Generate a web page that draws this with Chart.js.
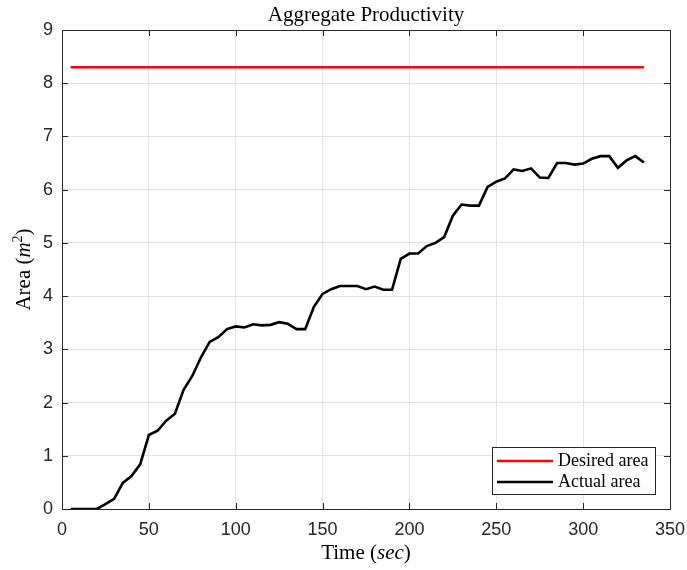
<!DOCTYPE html>
<html>
<head>
<meta charset="utf-8">
<script src="https://cdn.jsdelivr.net/npm/chart.js@4.4.1/dist/chart.umd.min.js"></script>
<style>
  html, body { margin: 0; padding: 0; background: #ffffff; }
  #wrap { width: 687px; height: 570px; position: relative; }
</style>
</head>
<body>
<div id="wrap"><canvas id="c" width="687" height="570"></canvas></div>
<script>
// ---- data ----
const titleText = 'Aggregate Productivity';
const seriesNames = ['Desired area', 'Actual area'];
const desiredTimes = [5, 335];
const desiredArea = [8.3, 8.3];
const times = [5, 10, 15, 20, 25, 30, 35, 40, 45, 50, 55, 60, 65, 70, 75, 80, 85, 90, 95, 100,
  105, 110, 115, 120, 125, 130, 135, 140, 145, 150, 155, 160, 165, 170, 175, 180, 185, 190, 195, 200,
  205, 210, 215, 220, 225, 230, 235, 240, 245, 250, 255, 260, 265, 270, 275, 280, 285, 290, 295, 300,
  305, 310, 315, 320, 325, 330, 335];
const actualArea = [0, 0, 0, 0, 0.09, 0.19, 0.49, 0.62, 0.84, 1.39, 1.47, 1.66, 1.79, 2.24, 2.50, 2.85, 3.14, 3.23, 3.38, 3.43,
  3.41, 3.47, 3.45, 3.46, 3.51, 3.48, 3.38, 3.38, 3.80, 4.04, 4.13, 4.19, 4.19, 4.19, 4.13, 4.18, 4.12, 4.12, 4.70, 4.80,
  4.80, 4.94, 5.00, 5.11, 5.51, 5.72, 5.70, 5.70, 6.05, 6.15, 6.21, 6.38, 6.35, 6.40, 6.23, 6.22, 6.50, 6.50, 6.47, 6.49,
  6.58, 6.63, 6.63, 6.41, 6.55, 6.63, 6.51];
const xTicks = [0, 50, 100, 150, 200, 250, 300, 350];
const yTicks = [0, 1, 2, 3, 4, 5, 6, 7, 8, 9];

const AXIS = '#262626';
const GRID = '#e3e3e3';
const SERIF = '"Liberation Serif", "DejaVu Serif", serif';
const SANS = '"Liberation Sans", Arial, sans-serif';

function drawRich(ctx, parts, x, y, align) {
  let total = 0;
  parts.forEach(p => { ctx.font = p.font; total += ctx.measureText(p.t).width; });
  let cx = align === 'center' ? x - total / 2 : x;
  parts.forEach(p => {
    ctx.font = p.font;
    ctx.fillText(p.t, cx, y + (p.dy || 0));
    cx += ctx.measureText(p.t).width;
  });
}

const framePlugin = {
  id: 'frame',
  afterDraw(chart) {
    const ctx = chart.ctx;
    const a = chart.chartArea;
    const xs = chart.scales.x, ys = chart.scales.y;
    ctx.save();
    ctx.strokeStyle = AXIS;
    ctx.lineWidth = 1;
    ctx.beginPath();
    ctx.rect(Math.round(a.left) + 0.5, Math.round(a.top) + 0.5, Math.round(a.right - a.left), Math.round(a.bottom - a.top));
    ctx.stroke();
    const tl = 6;
    ctx.beginPath();
    xTicks.forEach(v => {
      const px = Math.round(xs.getPixelForValue(v)) + 0.5;
      ctx.moveTo(px, a.bottom); ctx.lineTo(px, a.bottom - tl);
      ctx.moveTo(px, a.top); ctx.lineTo(px, a.top + tl);
    });
    yTicks.forEach(v => {
      const py = Math.round(ys.getPixelForValue(v)) + 0.5;
      ctx.moveTo(a.left, py); ctx.lineTo(a.left + tl, py);
      ctx.moveTo(a.right, py); ctx.lineTo(a.right - tl, py);
    });
    ctx.stroke();

    ctx.fillStyle = '#000';
    ctx.textBaseline = 'alphabetic';
    ctx.textAlign = 'left';
    drawRich(ctx, [{ t: titleText, font: '21px ' + SERIF }], (a.left + a.right) / 2, 21, 'center');

    drawRich(ctx, [
      { t: 'Time (', font: '21px ' + SERIF },
      { t: 'sec', font: 'italic 21px ' + SERIF },
      { t: ')', font: '21px ' + SERIF }
    ], (a.left + a.right) / 2, 559, 'center');

    ctx.save();
    ctx.translate(30, (a.top + a.bottom) / 2);
    ctx.rotate(-Math.PI / 2);
    drawRich(ctx, [
      { t: 'Area (', font: '21px ' + SERIF },
      { t: 'm', font: 'italic 21px ' + SERIF },
      { t: '2', font: '14px ' + SERIF, dy: -8 },
      { t: ')', font: '21px ' + SERIF }
    ], 0, 0, 'center');
    ctx.restore();

    // legend
    const bx = 492.5, by = 447.5, bw = 163, bh = 47;
    ctx.fillStyle = '#fff';
    ctx.fillRect(bx, by, bw, bh);
    ctx.strokeStyle = AXIS;
    ctx.lineWidth = 1;
    ctx.strokeRect(bx, by, bw, bh);
    const colors = ['#ff0000', '#000000'];
    seriesNames.forEach((name, i) => {
      const ly = 461 + i * 21;
      ctx.strokeStyle = colors[i];
      ctx.lineWidth = 2.6;
      ctx.beginPath();
      ctx.moveTo(497, ly); ctx.lineTo(553, ly);
      ctx.stroke();
      ctx.fillStyle = '#000';
      ctx.font = '18px ' + SERIF;
      ctx.textBaseline = 'middle';
      ctx.fillText(name, 558, ly);
    });
    ctx.restore();
  }
};

const desiredPts = desiredTimes.map((t, i) => ({ x: t, y: desiredArea[i] }));
const actualPts = times.map((t, i) => ({ x: t, y: actualArea[i] }));

new Chart(document.getElementById('c'), {
  type: 'line',
  data: {
    datasets: [
      { label: seriesNames[0], data: desiredPts, borderColor: '#ff0000', borderWidth: 2.6, pointRadius: 0, tension: 0, fill: false },
      { label: seriesNames[1], data: actualPts, borderColor: '#000000', borderWidth: 2.6, pointRadius: 0, tension: 0, fill: false }
    ]
  },
  options: {
    responsive: false,
    animation: false,
    devicePixelRatio: 1,
    layout: { padding: { top: 30, right: 17, left: 0, bottom: 0 } },
    plugins: {
      legend: { display: false },
      title: { display: false },
      tooltip: { enabled: false }
    },
    scales: {
      x: {
        type: 'linear',
        min: 0, max: 350,
        afterFit(s) { s.height = 61; s.paddingLeft = 0; s.paddingRight = 0; },
        afterBuildTicks(s) { s.ticks = xTicks.map(v => ({ value: v })); },
        ticks: { color: AXIS, font: { family: SANS, size: 18 }, padding: 10, maxRotation: 0 },
        grid: { color: GRID, lineWidth: 1, drawTicks: false },
        border: { display: false }
      },
      y: {
        min: 0, max: 9,
        afterFit(s) { s.width = 62; s.paddingTop = 0; s.paddingBottom = 0; },
        afterBuildTicks(s) { s.ticks = yTicks.map(v => ({ value: v })); },
        ticks: { color: AXIS, font: { family: SANS, size: 18 }, padding: 9 },
        grid: { color: GRID, lineWidth: 1, drawTicks: false },
        border: { display: false }
      }
    }
  },
  plugins: [framePlugin]
});
</script>
</body>
</html>
